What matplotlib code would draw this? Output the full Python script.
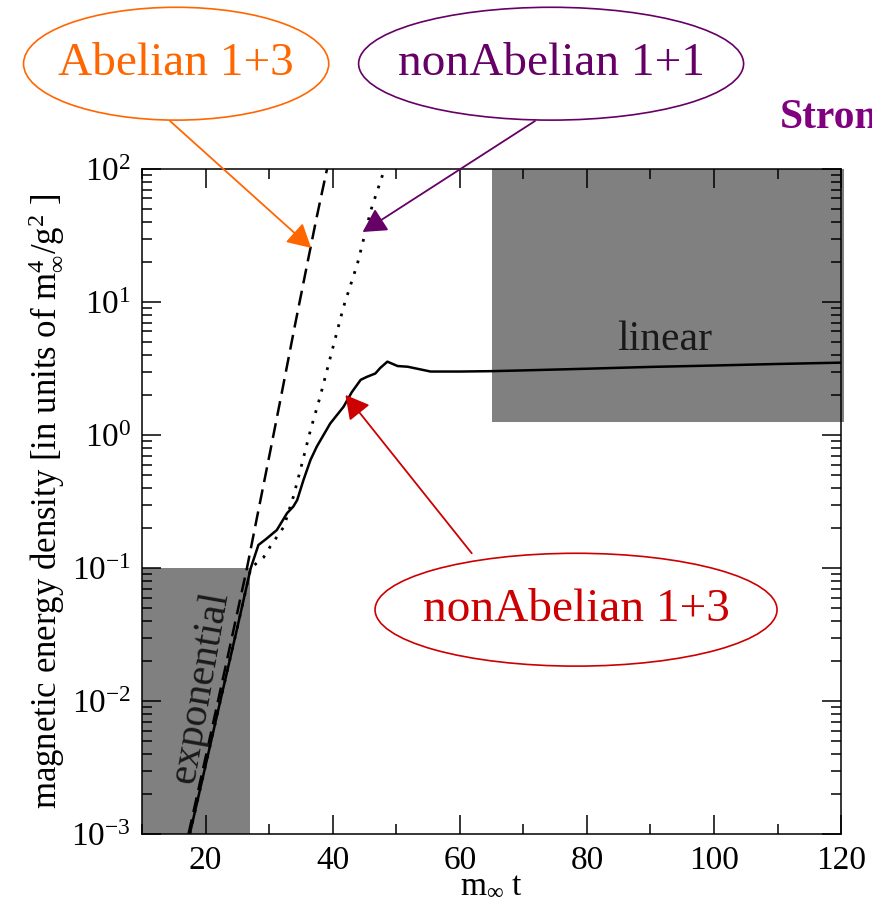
import matplotlib
matplotlib.use('Agg')
import matplotlib.pyplot as plt
from matplotlib.patches import Ellipse
from matplotlib.ticker import MultipleLocator, LogLocator

plt.rcParams['font.family'] = ['Liberation Serif', 'DejaVu Serif']
plt.rcParams['mathtext.fontset'] = 'stix'

# nonAbelian 1+3 (solid)
t_na13 = [17.5, 20, 22.5, 25, 27.1, 28.3, 29.5, 31.2, 32.8, 33.8, 34.4, 35.4, 36.5,
          37.5, 39.6, 41.7, 43.0, 44.4, 45.4, 46.7, 47.5, 48.6, 50.2, 51.8, 55.4,
          60, 65, 70, 80, 90, 100, 110, 120]
e_na13 = [1e-3, 3.3e-3, 0.011, 0.036, 0.1, 0.149, 0.165, 0.193, 0.258, 0.29, 0.324, 0.46, 0.65,
          0.82, 1.22, 1.63, 2.1, 2.6, 2.74, 2.9, 3.2, 3.56, 3.3, 3.26, 3.0,
          3.0, 3.02, 3.06, 3.15, 3.25, 3.33, 3.42, 3.5]

# Abelian 1+3 (dashed)
t_ab13 = [17.3, 20, 23, 26.5, 28.0, 30.0, 32.0, 34.0, 36.0, 37.5, 39.1]
e_ab13 = [1e-3, 3.8e-3, 0.017, 0.1, 0.23, 0.69, 2.1, 6.5, 19.5, 44, 100]

# nonAbelian 1+1 (dotted)
t_na11 = [17.5, 20, 22.5, 25, 27.1, 29.1, 30.2, 32.3, 33.8, 34.9, 36.5, 38.0,
          40.2, 41.7, 43.9, 46.0, 47.9, 48.1]
e_na11 = [1e-3, 3.3e-3, 0.011, 0.036, 0.1, 0.12, 0.146, 0.204, 0.344, 0.545, 1.09, 1.93,
          4.9, 9.2, 19.5, 49, 92, 100]

fig = plt.figure(figsize=(8.72, 9.10), dpi=100)
ax = fig.add_axes([0.163, 0.0835, 0.8015, 0.7308])

# shaded regions
ax.fill_between([10, 27], 1e-3, 1e-1, color='#808080', lw=0, zorder=1)
ax.fill_between([65, 120.5], 1.25, 100, color='#808080', lw=0, zorder=1, clip_on=False)

ax.plot(t_ab13, e_ab13, color='black', lw=1.8, dashes=(6, 3), zorder=3)
ax.plot(t_na11, e_na11, color='black', lw=2.0, dashes=(1, 3), zorder=3)
ax.plot(t_na13, e_na13, color='black', lw=1.8, zorder=4)

ax.set_yscale('log')
ax.set_xlim(10, 120)
ax.set_ylim(1e-3, 1e2)
ax.xaxis.set_major_locator(MultipleLocator(20))
ax.xaxis.set_minor_locator(MultipleLocator(10))
ax.yaxis.set_major_locator(LogLocator(base=10, numticks=10))
ax.yaxis.set_minor_locator(LogLocator(base=10, subs=range(2, 10), numticks=20))
ax.tick_params(which='both', direction='in', top=True, right=True, width=1.1)
ax.tick_params(which='major', length=13.5, labelsize=24, pad=8)
ax.tick_params(which='minor', length=7)
for s in ax.spines.values():
    s.set_linewidth(1.1)
    s.set_zorder(5)

ax.set_xlabel(r'$\mathregular{m_\infty\ t}$', fontsize=24, labelpad=-4)
ax.set_ylabel(r'magnetic energy density [in units of $\mathregular{m_\infty^{4}/g^{2}}$ ]',
              fontsize=25, labelpad=3)

ax.text(92.2, 5.2, 'linear', fontsize=30, color='#1a1a1a', ha='center', va='center')
ax.text(19.1, 0.0127, 'exponential', fontsize=30, color='#1a1a1a', rotation=80,
        ha='center', va='center')

# labelled ellipses with arrows
labels = ['Abelian 1+3', 'nonAbelian 1+1', 'nonAbelian 1+3']
colors = ['#ff6600', '#660066', '#cc0000']
centers = [(0.202, 0.930), (0.632, 0.930), (0.6606, 0.330)]
sizes = [(0.350, 0.124), (0.4415, 0.124), (0.461, 0.124)]
tails = [(0.195, 0.867), (0.6135, 0.867), (0.541, 0.392)]
tips = [(36.6, 25.5), (44.7, 33.6), (42.0, 2.0)]

for lab, c, cen, sz, tail, tip in zip(labels, colors, centers, sizes, tails, tips):
    fig.patches.append(Ellipse(cen, sz[0], sz[1], transform=fig.transFigure,
                               fill=False, edgecolor=c, lw=1.2))
    fig.text(cen[0], cen[1], lab, color=c, fontsize=34, ha='center', va='center')
    ax.annotate('', xy=tip, xycoords='data', xytext=tail, textcoords='figure fraction',
                arrowprops=dict(arrowstyle='-|>,head_length=0.4,head_width=0.22',
                                mutation_scale=36, color=c, lw=1.3,
                                shrinkA=0, shrinkB=0), zorder=6)

# partly cut-off heading at the right edge, as in the original
fig.text(780 / 872, 1 - 118 / 910, 'Strong', color='#800080', fontsize=30,
         fontweight='bold', ha='left', va='center')

fig.savefig('out.png', dpi=100)
